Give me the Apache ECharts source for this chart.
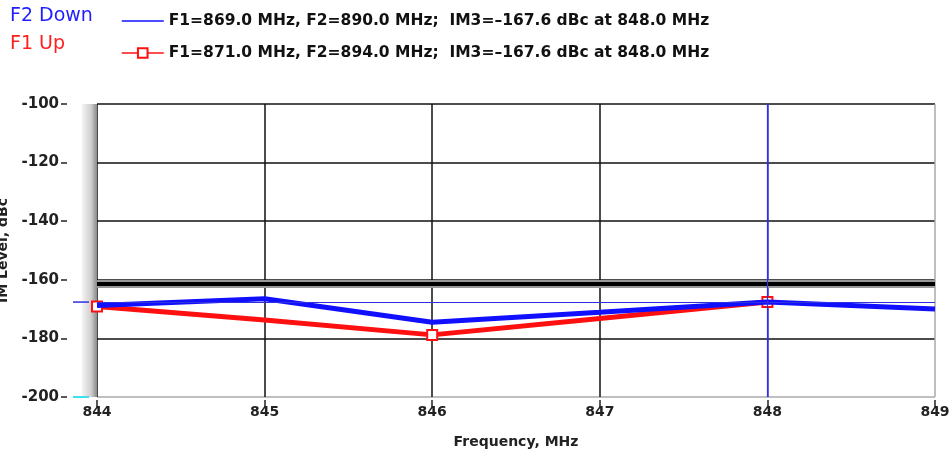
<!DOCTYPE html>
<html>
<head>
<meta charset="utf-8">
<script src="https://cdn.jsdelivr.net/npm/echarts@6/dist/echarts.min.js"></script>
<style>
html,body{margin:0;padding:0;background:#fff;}
#chart{width:951px;height:457px;}
</style>
</head>
<body>
<div id="chart"></div>
<script>
// ---- data ----
var freq = [844, 845, 846, 847, 848, 849];
var f2Down = [-168.8, -166.5, -174.5, -171.1, -167.6, -170.0];
var f1Up = [-169.1, -173.7, -178.8, -173.2, -167.6];
var f1UpMarkers = [true, false, true, false, true];
var seriesNames = ['F1=869.0 MHz, F2=890.0 MHz;  IM3=\u2013167.6 dBc at 848.0 MHz',
                   'F1=871.0 MHz, F2=894.0 MHz;  IM3=\u2013167.6 dBc at 848.0 MHz'];
var seriesLabels = ['F2 Down', 'F1 Up'];
var limitLevel = -161.5;
var markerLevel = -167.6;
var markerFreq = 848;
var yTicks = {min: -200, max: -100, interval: 20};
var xTicks = {min: 844, max: 849, interval: 1};

var FONT = 'DejaVu Sans';
var MARK = '#3030e0';
var chart = echarts.init(document.getElementById('chart'));

var blueData = freq.map(function (f, i) { return [f, f2Down[i]]; });
var redData = f1Up.map(function (v, i) {
  return {value: [freq[i], v], symbol: f1UpMarkers[i] ? 'emptyRect' : 'none'};
});
var xSplitColors = freq.map(function (f) {
  return f === markerFreq ? MARK : (f === xTicks.max ? '#aaa' : '#111');
});

var option = {
  animation: false,
  backgroundColor: '#fff',
  title: [
    {text: seriesLabels[0], left: 5, top: 2,
     textStyle: {color: '#1f1fff', fontFamily: FONT, fontSize: 19, fontWeight: 'normal'}},
    {text: seriesLabels[1], left: 5, top: 30,
     textStyle: {color: '#ff1f1f', fontFamily: FONT, fontSize: 19, fontWeight: 'normal'}}
  ],
  legend: {
    orient: 'vertical',
    left: 116, top: 8,
    itemWidth: 42, itemHeight: 12, itemGap: 16,
    data: [{name: seriesNames[0], itemStyle: {opacity: 0}}, {name: seriesNames[1]}],
    textStyle: {color: '#111', fontFamily: FONT, fontSize: 15.5, fontWeight: 'bold'},
    lineStyle: {width: 1.5},
    itemStyle: {borderWidth: 1.5}
  },
  grid: {left: 97, right: 16, top: 104, bottom: 60, containLabel: false, outerBoundsMode: 'none'},
  xAxis: {
    type: 'value', min: xTicks.min, max: xTicks.max, interval: xTicks.interval,
    offset: 3,
    name: 'Frequency, MHz', nameLocation: 'middle', nameGap: 35,
    nameTextStyle: {color: '#222', fontFamily: FONT, fontSize: 14, fontWeight: 'bold'},
    axisLine: {show: false},
    axisTick: {show: true, length: 7, lineStyle: {color: '#222', width: 1.5}},
    axisLabel: {color: '#222', fontFamily: FONT, fontSize: 14, fontWeight: 'bold', margin: 5},
    splitLine: {show: true, lineStyle: {color: xSplitColors, width: 1.5}}
  },
  yAxis: {
    type: 'value', min: yTicks.min, max: yTicks.max, interval: yTicks.interval,
    offset: 30,
    name: 'IM Level, dBc', nameLocation: 'middle', nameGap: 57, nameRotate: 90,
    nameTextStyle: {color: '#222', fontFamily: FONT, fontSize: 14, fontWeight: 'bold'},
    axisLine: {show: false},
    axisTick: {show: true, length: 6, lineStyle: {color: '#222', width: 1.5}},
    axisLabel: {color: '#222', fontFamily: FONT, fontSize: 15, fontWeight: 'bold', margin: 8},
    splitLine: {show: true, lineStyle: {color: ['#aaa', '#111', '#111', '#111', '#111', '#111'], width: 1.5}}
  },
  series: [
    {
      name: seriesNames[1], type: 'line', z: 3,
      data: redData, symbol: 'emptyRect', symbolSize: 10,
      lineStyle: {color: '#ff1010', width: 5},
      itemStyle: {color: '#ff1010', borderColor: '#ff1010', borderWidth: 1.5},
      markLine: {
        silent: true, symbol: 'none', label: {show: false}, z: 2,
        data: [
          {yAxis: limitLevel, lineStyle: {color: '#999', width: 8, type: 'solid'}},
          {yAxis: limitLevel, lineStyle: {color: '#000', width: 4, type: 'solid'}}
        ]
      }
    },
    {
      name: seriesNames[0], type: 'line', z: 4,
      data: blueData, symbol: 'none', showSymbol: false,
      lineStyle: {color: '#1010ff', width: 5},
      itemStyle: {color: '#1010ff'},
      markLine: {
        silent: true, symbol: 'none', label: {show: false},
        data: [
          {yAxis: markerLevel, lineStyle: {color: MARK, width: 1.2, type: 'solid'}},
          {xAxis: markerFreq, lineStyle: {color: MARK, width: 1.2, type: 'solid'}}
        ]
      }
    }
  ]
};
chart.setOption(option);

// decorations placed through the chart's own scales
var pTop = chart.convertToPixel({gridIndex: 0}, [xTicks.min, yTicks.max]);
var pBot = chart.convertToPixel({gridIndex: 0}, [xTicks.min, yTicks.min]);
var pMark = chart.convertToPixel({gridIndex: 0}, [xTicks.min, markerLevel]);
chart.setOption({
  graphic: [
    {type: 'rect', z: 1, silent: true,
     shape: {x: pTop[0] - 15, y: pTop[1], width: 15, height: pBot[1] - pTop[1]},
     style: {fill: new echarts.graphic.LinearGradient(0, 0, 1, 0, [
       {offset: 0, color: '#f4f4f4'}, {offset: 0.6, color: '#d0d0d0'}, {offset: 1, color: '#8a8a8a'}])}},
    {type: 'line', z: 5, silent: true,
     shape: {x1: pMark[0] - 24, y1: pMark[1], x2: pMark[0] - 8, y2: pMark[1]},
     style: {stroke: MARK, lineWidth: 1.5}},
    {type: 'line', z: 5, silent: true,
     shape: {x1: pBot[0] - 24, y1: pBot[1], x2: pBot[0] - 8, y2: pBot[1]},
     style: {stroke: '#40e0f0', lineWidth: 2}}
  ]
});
</script>
</body>
</html>
